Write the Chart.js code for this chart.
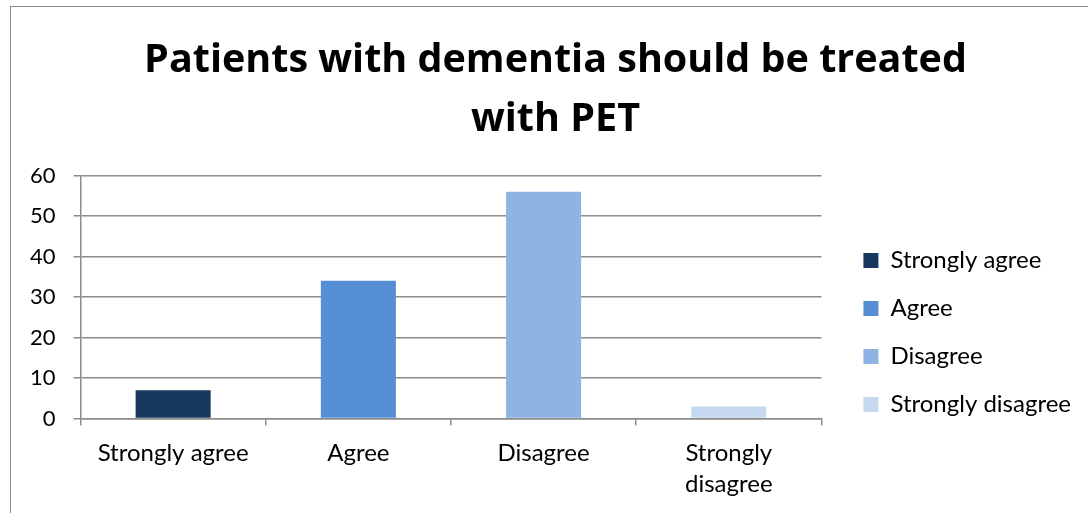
<!DOCTYPE html>
<html>
<head>
<meta charset="utf-8">
<script src="https://cdn.jsdelivr.net/npm/chart.js@4/dist/chart.umd.min.js"></script>
<style>
  html, body { margin: 0; padding: 0; background: #fff; overflow: hidden; }
  #frame {
    position: absolute; left: 10px; top: 6px;
    width: 1100px; height: 530px;
    border: 1px solid #8c8c8c;
  }
  #wrap { position: absolute; left: 0; top: 0; width: 1077px; height: 506px; }
</style>
</head>
<body>
<div id="frame"><div id="wrap"><canvas id="chart"></canvas></div></div>
<script>
// Survey answers
const categories = [['Strongly agree'], ['Agree'], ['Disagree'], ['Strongly', 'disagree']];
const legendNames = ['Strongly agree', 'Agree', 'Disagree', 'Strongly disagree'];
const responses = [7, 34, 56, 3];
const barColors = ['#17375e', '#558ed5', '#8eb4e3', '#c6d9f1'];
const yTicks = [0, 10, 20, 30, 40, 50, 60];

const fontFamily = "Lato, 'Open Sans', sans-serif";
const gridColor = '#8c8c8c';

// nudge legend + title to sit where Excel put them
const boxShift = {
  id: 'boxShift',
  afterLayout(chart, args, opts) {
    const lg = chart.legend;
    if (lg) {
      lg.left += opts.legendDx; lg.right += opts.legendDx;
      lg.top += opts.legendDy; lg.bottom += opts.legendDy;
    }
    const tt = chart.titleBlock;
    if (tt) {
      tt.left += opts.titleDx; tt.right += opts.titleDx;
    }
  }
};

new Chart(document.getElementById('chart').getContext('2d'), {
  type: 'bar',
  data: {
    labels: categories,
    datasets: [{
      label: 'Responses',
      data: responses,
      backgroundColor: barColors,
      borderWidth: 0,
      categoryPercentage: 1,
      barPercentage: 0.405
    }]
  },
  plugins: [boxShift],
  options: {
    responsive: true,
    maintainAspectRatio: false,
    animation: false,
    layout: { padding: { left: 1, right: 25, top: 0, bottom: 1 } },
    scales: {
      x: {
        grid: {
          drawOnChartArea: false,
          offset: true,
          tickLength: 7,
          color: gridColor,
          lineWidth: 1.5
        },
        border: { color: gridColor, width: 1.5 },
        ticks: {
          color: '#000',
          padding: 12,
          font: { family: fontFamily, size: 24, lineHeight: 1.3 }
        }
      },
      y: {
        min: 0,
        max: 60,
        afterBuildTicks: axis => { axis.ticks = yTicks.map(v => ({ value: v })); },
        grid: {
          color: gridColor,
          lineWidth: 1.5,
          tickLength: 7
        },
        border: { color: gridColor, width: 1.5 },
        ticks: {
          color: '#000',
          padding: 18,
          font: { family: fontFamily, size: 22 }
        }
      }
    },
    plugins: {
      boxShift: { legendDx: 18, legendDy: 73, titleDx: 18 },
      title: {
        display: true,
        text: ['Patients with dementia should be treated', 'with PET'],
        color: '#000',
        font: { family: "'Open Sans', sans-serif", size: 39.5, weight: 'bold', lineHeight: 1.5 },
        padding: { top: 24, bottom: 26 }
      },
      legend: {
        position: 'right',
        labels: {
          color: '#000',
          boxWidth: 15,
          boxHeight: 15,
          padding: 24,
          font: { family: fontFamily, size: 24 },
          generateLabels: () => legendNames.map((name, i) => ({
            text: name,
            fillStyle: barColors[i],
            strokeStyle: barColors[i],
            lineWidth: 0,
            index: i
          }))
        }
      },
      tooltip: { enabled: false }
    }
  }
});
</script>
</body>
</html>
